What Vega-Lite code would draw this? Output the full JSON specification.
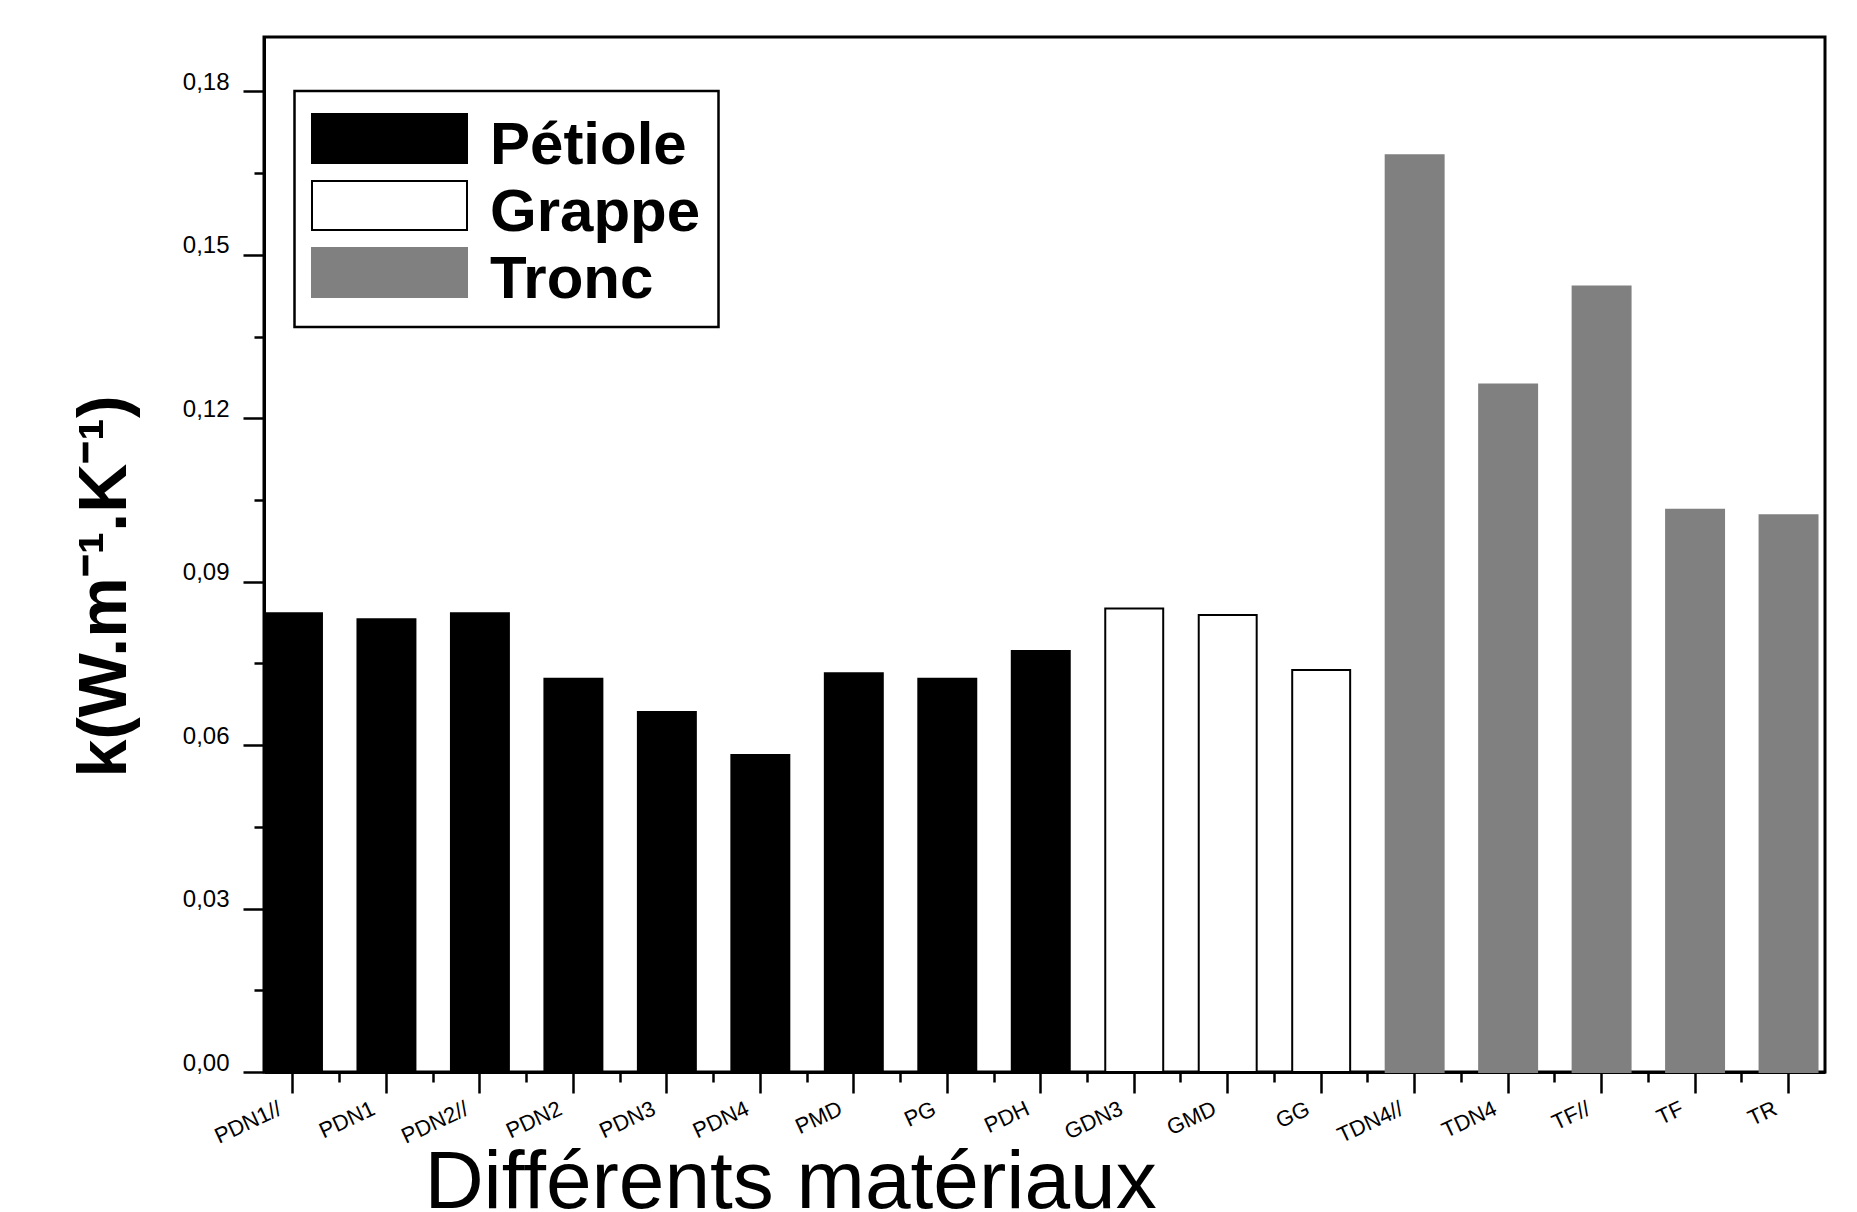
{
  "$schema": "https://vega.github.io/schema/vega-lite/v6.json",
  "autosize": {"type": "none"},
  "padding": {"left": 264, "top": 37, "right": 32, "bottom": 140},
  "width": 1561,
  "height": 1035,
  "background": "white",
  "data": {
    "values": [
      {"materiau": "PDN1//", "partie": "Pétiole", "k": 0.0842},
      {"materiau": "PDN1", "partie": "Pétiole", "k": 0.0831},
      {"materiau": "PDN2//", "partie": "Pétiole", "k": 0.0842},
      {"materiau": "PDN2", "partie": "Pétiole", "k": 0.0722},
      {"materiau": "PDN3", "partie": "Pétiole", "k": 0.0661},
      {"materiau": "PDN4", "partie": "Pétiole", "k": 0.0582},
      {"materiau": "PMD", "partie": "Pétiole", "k": 0.0732},
      {"materiau": "PG", "partie": "Pétiole", "k": 0.0722},
      {"materiau": "PDH", "partie": "Pétiole", "k": 0.0773},
      {"materiau": "GDN3", "partie": "Grappe", "k": 0.0851},
      {"materiau": "GMD", "partie": "Grappe", "k": 0.0839},
      {"materiau": "GG", "partie": "Grappe", "k": 0.0738},
      {"materiau": "TDN4//", "partie": "Tronc", "k": 0.1683},
      {"materiau": "TDN4", "partie": "Tronc", "k": 0.1262},
      {"materiau": "TF//", "partie": "Tronc", "k": 0.1442},
      {"materiau": "TF", "partie": "Tronc", "k": 0.1032},
      {"materiau": "TR", "partie": "Tronc", "k": 0.1022}
    ]
  },
  "resolve": {"axis": {"x": "independent", "y": "independent"}},
  "layer": [
    {
      "mark": {"type": "bar", "strokeWidth": 2},
      "encoding": {
        "x": {
          "field": "materiau",
          "type": "nominal",
          "sort": null,
          "scale": {"paddingInner": 0.38, "paddingOuter": 0.04, "align": 0},
          "axis": {
            "orient": "bottom",
            "title": "Différents matériaux",
            "titleFont": "Liberation Sans",
            "titleFontSize": 82,
            "titleFontWeight": "normal",
            "titleColor": "black",
            "titleX": 526,
            "titleY": 135,
            "titleAlign": "center",
            "titleBaseline": "alphabetic",
            "domainColor": "black",
            "domainWidth": 3,
            "tickColor": "black",
            "tickWidth": 2.5,
            "tickSize": 21,
            "labelAngle": -25,
            "labelAlign": "right",
            "labelBaseline": "top",
            "labelFont": "Liberation Sans",
            "labelFontSize": 22,
            "labelColor": "black",
            "labelPadding": 5,
            "labelOffset": -17,
            "labelOverlap": false,
            "labelBound": false,
            "labelFlush": false,
            "grid": false
          }
        },
        "y": {
          "field": "k",
          "type": "quantitative",
          "scale": {"domain": [0, 0.19], "nice": false, "zero": true},
          "axis": {
            "orient": "left",
            "values": [0, 0.03, 0.06, 0.09, 0.12, 0.15, 0.18],
            "labelExpr": "replace(format(datum.value, '.2f'), '.', ',')",
            "title": "k(W.m⁻¹.K⁻¹)",
            "titleFont": "Liberation Sans",
            "titleFontSize": 68,
            "titleFontWeight": "bold",
            "titleColor": "black",
            "titleAngle": -90,
            "titleX": -139,
            "titleY": 549,
            "titleAlign": "center",
            "titleBaseline": "alphabetic",
            "domainColor": "black",
            "domainWidth": 3,
            "tickColor": "black",
            "tickWidth": 2.5,
            "tickSize": 21,
            "labelFont": "Liberation Sans",
            "labelFontSize": 24,
            "labelColor": "black",
            "labelPadding": 14,
            "labelBaseline": "alphabetic",
            "labelOffset": -2,
            "labelOverlap": false,
            "labelBound": false,
            "labelFlush": false,
            "grid": false
          }
        },
        "fill": {
          "field": "partie",
          "type": "nominal",
          "scale": {"domain": ["Pétiole", "Grappe", "Tronc"], "range": ["#000000", "#ffffff", "#808080"]},
          "legend": {
            "title": null,
            "orient": "none",
            "legendX": 30.5,
            "legendY": 54,
            "padding": 17.5,
            "rowPadding": 0,
            "fillColor": "white",
            "strokeColor": "black",
            "symbolType": "M-3.1,-0.98H3.1V0.98H-3.1Z",
            "symbolSize": 2500,
            "symbolStrokeWidth": 2,
            "symbolOffset": 47.5,
            "labelOffset": 70.5,
            "labelFont": "Liberation Sans",
            "labelFontSize": 60,
            "labelFontWeight": "bold",
            "labelColor": "black",
            "labelLimit": 0,
            "encode": {
              "labels": {"update": {"dy": {"value": 7}}},
              "legend": {"update": {"strokeWidth": {"value": 2.5}}}
            }
          }
        },
        "stroke": {
          "field": "partie",
          "type": "nominal",
          "scale": {"domain": ["Pétiole", "Grappe", "Tronc"], "range": ["#000000", "#000000", "#808080"]},
          "legend": {
            "title": null,
            "orient": "none",
            "legendX": 30.5,
            "legendY": 54,
            "padding": 17.5,
            "rowPadding": 0,
            "fillColor": "white",
            "strokeColor": "black",
            "symbolType": "M-3.1,-0.98H3.1V0.98H-3.1Z",
            "symbolSize": 2500,
            "symbolStrokeWidth": 2,
            "symbolOffset": 47.5,
            "labelOffset": 70.5,
            "labelFont": "Liberation Sans",
            "labelFontSize": 60,
            "labelFontWeight": "bold",
            "labelColor": "black",
            "labelLimit": 0,
            "encode": {
              "labels": {"update": {"dy": {"value": 7}}},
              "legend": {"update": {"strokeWidth": {"value": 2.5}}}
            }
          }
        }
      }
    },
    {
      "mark": {"type": "bar", "opacity": 0},
      "encoding": {
        "x": {
          "field": "materiau",
          "type": "nominal",
          "sort": null,
          "axis": {
            "orient": "bottom",
            "values": ["PDN1//", "PDN1", "PDN2//", "PDN2", "PDN3", "PDN4", "PMD", "PG", "PDH", "GDN3", "GMD", "GG", "TDN4//", "TDN4", "TF//", "TF"],
            "bandPosition": 1.3065,
            "labels": false,
            "domain": false,
            "title": null,
            "tickColor": "black",
            "tickWidth": 2.5,
            "tickSize": 10,
            "grid": false
          }
        },
        "y": {
          "field": "k",
          "type": "quantitative",
          "axis": {
            "orient": "left",
            "values": [0.015, 0.045, 0.075, 0.105, 0.135, 0.165],
            "labels": false,
            "domain": false,
            "title": null,
            "tickColor": "black",
            "tickWidth": 2.5,
            "tickSize": 10,
            "grid": false
          }
        }
      }
    }
  ],
  "config": {
    "view": {"stroke": "black", "strokeWidth": 3},
    "axis": {"grid": false}
  }
}
